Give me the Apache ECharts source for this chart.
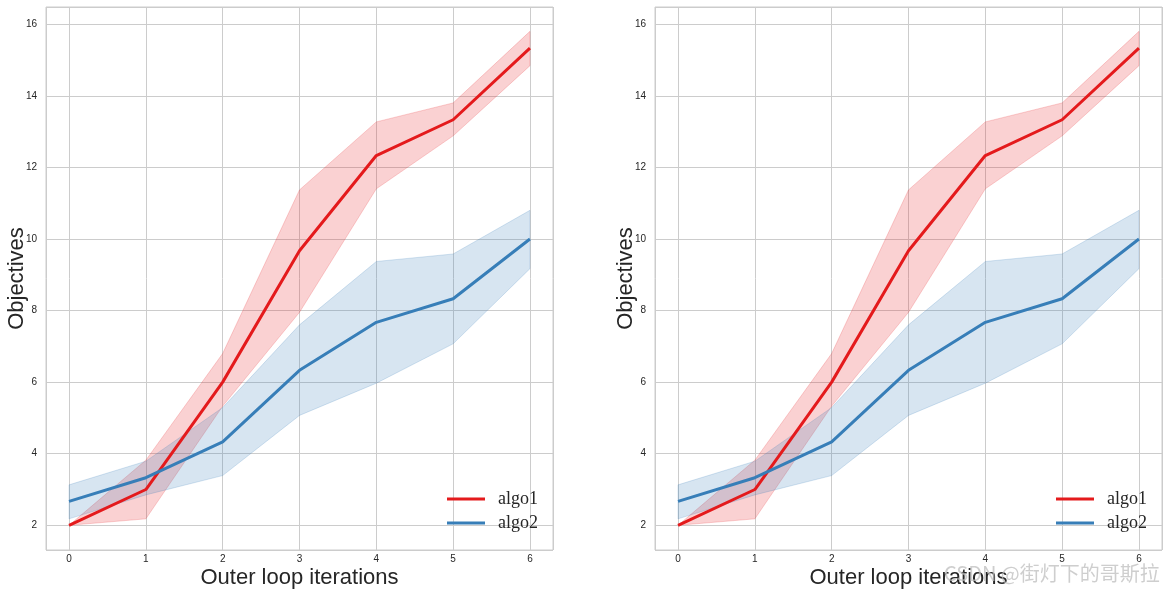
<!DOCTYPE html>
<html>
<head>
<meta charset="utf-8">
<script src="https://cdn.jsdelivr.net/npm/echarts@6/dist/echarts.min.js"></script>
<style>html,body{margin:0;padding:0;background:#fff}#c{width:1169px;height:594px}</style>
</head>
<body>
<div id="c"></div>
<script>
const iterations = [0, 1, 2, 3, 4, 5, 6];
const algo1Mean = [2.0, 3.0, 6.0, 9.67, 12.33, 13.33, 15.33];
const algo1Low  = [2.0, 2.18, 5.33, 7.95, 11.4, 12.88, 14.84];
const algo1High = [2.0, 3.82, 6.8, 11.37, 13.27, 13.8, 15.8];
const algo2Mean = [2.67, 3.33, 4.33, 6.33, 7.67, 8.33, 10.0];
const algo2Low  = [2.18, 2.85, 3.39, 5.07, 5.97, 7.07, 9.17];
const algo2High = [3.13, 3.79, 5.29, 7.6, 9.37, 9.58, 10.8];
const seriesNames = ['algo1', 'algo2'];
const xTitle = 'Outer loop iterations';
const yTitle = 'Objectives';
const watermark = 'CSDN @街灯下的哥斯拉';

const RED = '#e41a1c', BLUE = '#377eb8';
const chart = echarts.init(document.getElementById('c'), null, {renderer: 'canvas'});

const grids = [
  {left: 46, top: 7, width: 507, height: 543},
  {left: 655, top: 7, width: 507, height: 543}
];

function pairs(xs, ys) { return xs.map((x, i) => [x, ys[i]]); }

function band(lo, hi, color, gi) {
  return {
    type: 'custom', xAxisIndex: gi, yAxisIndex: gi, z: 1, silent: true,
    data: [[0, 0]],
    renderItem: function (params, api) {
      const pts = [];
      for (let i = 0; i < iterations.length; i++) pts.push(api.coord([iterations[i], hi[i]]));
      for (let i = iterations.length - 1; i >= 0; i--) pts.push(api.coord([iterations[i], lo[i]]));
      return {
        type: 'polygon', shape: {points: pts},
        style: {fill: color, stroke: color, lineWidth: 1, opacity: 0.2}
      };
    }
  };
}
function line(name, ys, color, gi) {
  return {
    type: 'line', name: name, xAxisIndex: gi, yAxisIndex: gi, z: 5,
    data: pairs(iterations, ys), symbol: 'none', color: color,
    lineStyle: {width: 3, color: color}, silent: true, animation: false
  };
}

const xAxes = [], yAxes = [], series = [], legends = [];
grids.forEach((g, gi) => {
  xAxes.push({
    type: 'value', gridIndex: gi, min: -0.3, max: 6.3, splitNumber: 7,
    name: xTitle, nameLocation: 'middle', nameGap: 17, nameMoveOverlap: false,
    nameTextStyle: {fontSize: 22, color: '#262626', fontFamily: 'Liberation Sans'},
    axisLine: {show: false}, axisTick: {show: false},
    axisLabel: {fontSize: 10, color: '#262626', margin: 4, fontFamily: 'Liberation Sans',
      showMinLabel: false, showMaxLabel: false,
      formatter: v => (Number.isInteger(v) ? String(v) : '')},
    splitLine: {show: true, lineStyle: {color: '#cccccc', width: 1}}
  });
  yAxes.push({
    type: 'value', gridIndex: gi, min: 1.31, max: 16.48, splitNumber: 7,
    name: yTitle, nameLocation: 'middle', nameGap: 18, nameRotate: 90, nameMoveOverlap: false,
    nameTextStyle: {fontSize: 22, color: '#262626', fontFamily: 'Liberation Sans'},
    axisLine: {show: false}, axisTick: {show: false},
    axisLabel: {fontSize: 10, color: '#262626', margin: 9, fontFamily: 'Liberation Sans',
      showMinLabel: false, showMaxLabel: false,
      formatter: v => (Math.abs(v - Math.round(v)) < 1e-6 && Math.round(v) % 2 === 0 ? String(Math.round(v)) : '')},
    splitLine: {show: true, lineStyle: {color: '#cccccc', width: 1}}
  });
  series.push(band(algo1Low, algo1High, RED, gi));
  series.push(band(algo2Low, algo2High, BLUE, gi));
  series.push(line(seriesNames[0], algo1Mean, RED, gi));
  series.push(line(seriesNames[1], algo2Mean, BLUE, gi));
  legends.push({
    data: seriesNames, orient: 'vertical', left: g.left + 396, top: 485,
    icon: 'rect', itemWidth: 38, itemHeight: 3, itemGap: 6,
    textStyle: {fontSize: 18, color: '#262626', fontFamily: 'Liberation Serif', padding: [0, 0, 0, 8]},
    selectedMode: false
  });
});

chart.setOption({
  animation: false,
  backgroundColor: '#ffffff',
  grid: grids.map(g => Object.assign({show: true, borderColor: '#cccccc', borderWidth: 1,
    backgroundColor: 'transparent', containLabel: false, outerBoundsMode: 'none'}, g)),
  xAxis: xAxes, yAxis: yAxes, legend: legends, series: series,
  graphic: [{
    type: 'text', left: 944, top: 563, z: 100, silent: true,
    style: {text: watermark, fontSize: 20, fill: 'rgba(190,190,190,0.75)', fontFamily: 'Noto Sans CJK SC'}
  }]
});
</script>
</body>
</html>
